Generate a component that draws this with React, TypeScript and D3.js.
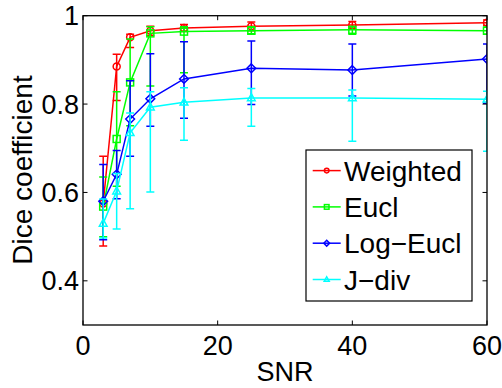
import React from "react";
import * as d3 from "d3";

const snr = [3, 5, 7, 10, 15, 25, 40, 60];

const weightedMean = [0.575, 0.885, 0.951, 0.966, 0.972, 0.976, 0.979, 0.984];
const weightedLo = [0.479, 0.808, 0.928, 0.955, 0.964, 0.966, 0.971, 0.978];
const weightedHi = [0.682, 0.913, 0.958, 0.976, 0.98, 0.986, 0.987, 0.99];

const euclMean = [0.568, 0.721, 0.849, 0.96, 0.964, 0.966, 0.968, 0.966];
const euclLo = [0.5, 0.614, 0.751, 0.841, 0.871, 0.959, 0.958, 0.958];
const euclHi = [0.635, 0.828, 0.947, 0.975, 0.975, 0.975, 0.975, 0.974];

const logEuclMean = [0.58, 0.641, 0.766, 0.812, 0.857, 0.881, 0.877, 0.902];
const logEuclLo = [0.493, 0.586, 0.682, 0.75, 0.768, 0.799, 0.818, 0.802];
const logEuclHi = [0.663, 0.695, 0.853, 0.914, 0.941, 0.943, 0.936, 0.936];

const jdivMean = [0.53, 0.603, 0.735, 0.793, 0.804, 0.814, 0.814, 0.811];
const jdivLo = [0.497, 0.517, 0.563, 0.601, 0.718, 0.75, 0.716, 0.693];
const jdivHi = [0.585, 0.643, 0.78, 0.828, 0.837, 0.835, 0.832, 0.829];

const seriesNames = ["Weighted", "Eucl", "Log\u2212Eucl", "J\u2212div"];
const seriesColors = ["#ff0000", "#00ff00", "#0000ff", "#00ffff"];
const seriesMarkers = ["circle", "square", "diamond", "triangle"];

const xTicks = [0, 20, 40, 60];
const yTicks = [0.4, 0.6, 0.8, 1];
const yTickLabels = ["0.4", "0.6", "0.8", "1"];

const FONT = "'Liberation Sans', Arial, Helvetica, sans-serif";

function Marker({ kind, cx, cy, s, color }: { kind: string; cx: number; cy: number; s: number; color: string }) {
  const common = { fill: "none", stroke: color, strokeWidth: 1.5 };
  if (kind === "circle") return <circle cx={cx} cy={cy} r={s} {...common} />;
  if (kind === "square") return <rect x={cx - s} y={cy - s} width={2 * s} height={2 * s} {...common} />;
  if (kind === "diamond")
    return <path d={`M${cx},${cy - s * 1.25}L${cx + s * 1.25},${cy}L${cx},${cy + s * 1.25}L${cx - s * 1.25},${cy}Z`} {...common} />;
  return <path d={`M${cx},${cy - s * 1.2}L${cx + s * 1.1},${cy + s * 0.8}L${cx - s * 1.1},${cy + s * 0.8}Z`} {...common} />;
}

export default function App() {
  const W = 502, H = 388;
  const left = 83, right = 487, top = 15.7, bottom = 325;
  const x = d3.scaleLinear().domain([0, 60]).range([left, right]);
  const y = d3.scaleLinear().domain([0.3, 1]).range([bottom, top]);

  const series = [
    { mean: weightedMean, lo: weightedLo, hi: weightedHi },
    { mean: euclMean, lo: euclLo, hi: euclHi },
    { mean: logEuclMean, lo: logEuclLo, hi: logEuclHi },
    { mean: jdivMean, lo: jdivLo, hi: jdivHi },
  ];

  const line = d3
    .line<number>()
    .x((_, i) => x(snr[i]))
    .y((d) => y(d));

  const cap = 4;
  const tickLen = 4.5;

  const legX = 306, legY = 150, legW = 166, legH = 151;
  const legBase0 = 180.6, legStep = 36.3;

  return (
    <svg width={W} height={H} style={{ position: "absolute", left: 0, top: 0, background: "#fff" }} fontFamily={FONT}>
      <rect x={0} y={0} width={W} height={H} fill="#fff" />
      <defs>
        <clipPath id="plotclip">
          <rect x={left} y={top} width={right - left} height={bottom - top} />
        </clipPath>
      </defs>

      {/* data */}
      <g clipPath="url(#plotclip)">
        {series.map((s, si) => (
          <g key={si}>
            {snr.map((v, i) => (
              <g key={i} stroke={seriesColors[si]} strokeWidth={1.5}>
                <line x1={x(v)} x2={x(v)} y1={y(s.lo[i])} y2={y(s.hi[i])} />
                <line x1={x(v) - cap} x2={x(v) + cap} y1={y(s.lo[i])} y2={y(s.lo[i])} />
                <line x1={x(v) - cap} x2={x(v) + cap} y1={y(s.hi[i])} y2={y(s.hi[i])} />
              </g>
            ))}
            <path d={line(s.mean) || ""} fill="none" stroke={seriesColors[si]} strokeWidth={1.5} />
            {snr.map((v, i) => (
              <Marker key={i} kind={seriesMarkers[si]} cx={x(v)} cy={y(s.mean[i])} s={3.5} color={seriesColors[si]} />
            ))}
          </g>
        ))}
      </g>

      {/* axes box */}
      <rect x={left} y={top} width={right - left} height={bottom - top} fill="none" stroke="#000" strokeWidth={1.3} />
      {xTicks.map((t) => (
        <g key={t} stroke="#000" strokeWidth={1}>
          <line x1={x(t)} x2={x(t)} y1={bottom} y2={bottom - tickLen} />
          <line x1={x(t)} x2={x(t)} y1={top} y2={top + tickLen} />
        </g>
      ))}
      {yTicks.map((t) => (
        <g key={t} stroke="#000" strokeWidth={1}>
          <line x1={left} x2={left + tickLen} y1={y(t)} y2={y(t)} />
          <line x1={right} x2={right - tickLen} y1={y(t)} y2={y(t)} />
        </g>
      ))}
      {xTicks.map((t) => (
        <text key={t} x={x(t)} y={355} textAnchor="middle" fontSize={27} fill="#000">
          {t}
        </text>
      ))}
      {yTicks.map((t, i) => (
        <text key={t} x={79} y={y(t) + 9.5} textAnchor="end" fontSize={27} fill="#000">
          {yTickLabels[i]}
        </text>
      ))}
      <text x={(left + right) / 2} y={381} textAnchor="middle" fontSize={27} fill="#000">
        SNR
      </text>
      <text transform={`translate(32,170) rotate(-90)`} textAnchor="middle" fontSize={28} fill="#000">
        Dice coefficient
      </text>

      {/* legend */}
      <rect x={legX} y={legY} width={legW} height={legH} fill="#fff" stroke="#000" strokeWidth={1.2} />
      {seriesNames.map((n, i) => {
        const by = legBase0 + i * legStep;
        const ly = by - 10;
        return (
          <g key={n}>
            <line x1={312.7} x2={340.7} y1={ly} y2={ly} stroke={seriesColors[i]} strokeWidth={1.5} />
            <Marker kind={seriesMarkers[i]} cx={326.7} cy={ly} s={2.3} color={seriesColors[i]} />
            <text x={344} y={by} fontSize={28} fill="#000">
              {n}
            </text>
          </g>
        );
      })}
    </svg>
  );
}
